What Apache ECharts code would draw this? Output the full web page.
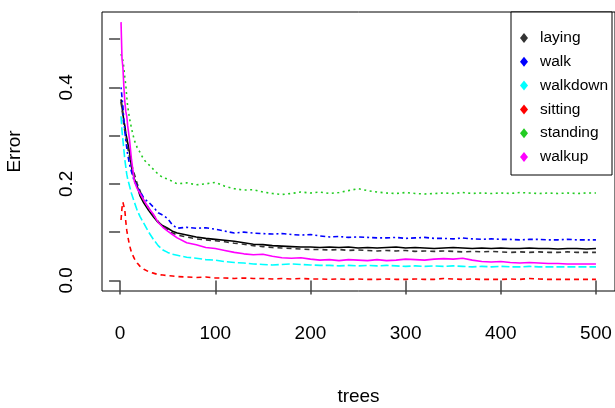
<!DOCTYPE html>
<html>
<head>
<meta charset="utf-8">
<script src="https://cdn.jsdelivr.net/npm/echarts@6/dist/echarts.min.js"></script>
<style>
html,body{margin:0;padding:0;background:#fff;}
#c{width:615px;height:408px;}
</style>
</head>
<body>
<div id="c"></div>
<script>
// number of trees at which error was read
const trees = [1,2,3,4,5,6,7,8,10,12,15,18,21,25,30,35,40,45,50,55,60,
  70,80,90,100,110,120,130,140,150,160,170,180,190,200,210,220,230,240,250,260,270,280,290,300,
  310,320,330,340,350,360,370,380,390,400,410,420,430,440,450,460,470,480,490,500];

const oob = [0.375,0.36,0.345,0.33,0.32,0.305,0.295,0.285,0.265,0.235,0.21,0.195,0.175,0.16,0.145,0.132,0.12,0.113,0.108,0.102,0.098,
  0.094,0.09,0.087,0.085,0.083,0.081,0.078,0.075,0.074,0.072,0.071,0.07,0.069,0.069,0.068,0.069,0.068,0.069,0.067,0.068,0.067,0.068,0.069,0.067,
  0.068,0.067,0.066,0.067,0.068,0.067,0.066,0.067,0.066,0.067,0.066,0.066,0.067,0.066,0.066,0.065,0.066,0.066,0.065,0.066];

const laying = [0.37,0.355,0.34,0.32,0.31,0.3,0.285,0.275,0.255,0.24,0.22,0.2,0.185,0.165,0.15,0.135,0.122,0.112,0.105,0.098,0.094,
  0.09,0.086,0.084,0.082,0.08,0.077,0.075,0.072,0.07,0.068,0.067,0.066,0.065,0.064,0.064,0.063,0.064,0.062,0.063,0.062,0.061,0.062,0.061,0.062,
  0.060,0.061,0.060,0.061,0.060,0.059,0.060,0.059,0.060,0.059,0.058,0.059,0.058,0.059,0.058,0.058,0.059,0.058,0.058,0.058];

const walk = [0.40,0.38,0.36,0.33,0.31,0.29,0.275,0.26,0.24,0.225,0.205,0.195,0.185,0.17,0.162,0.152,0.14,0.135,0.128,0.115,0.108,
  0.11,0.108,0.109,0.106,0.102,0.098,0.1,0.098,0.097,0.096,0.097,0.095,0.094,0.095,0.092,0.09,0.091,0.089,0.09,0.089,0.088,0.088,0.089,0.087,
  0.088,0.089,0.087,0.087,0.086,0.088,0.086,0.085,0.086,0.085,0.085,0.084,0.085,0.085,0.084,0.084,0.085,0.084,0.084,0.084];

const walkdown = [0.34,0.31,0.29,0.27,0.25,0.235,0.22,0.21,0.195,0.18,0.162,0.145,0.132,0.118,0.1,0.085,0.072,0.063,0.058,0.054,0.052,
  0.048,0.046,0.043,0.042,0.039,0.037,0.036,0.034,0.033,0.032,0.033,0.034,0.033,0.032,0.031,0.031,0.030,0.031,0.030,0.031,0.030,0.031,0.030,0.029,
  0.030,0.029,0.030,0.029,0.030,0.029,0.028,0.029,0.028,0.029,0.028,0.028,0.029,0.028,0.028,0.028,0.028,0.028,0.028,0.028];

const sitting = [0.125,0.15,0.162,0.166,0.145,0.122,0.104,0.092,0.072,0.058,0.045,0.036,0.029,0.023,0.018,0.015,0.012,0.011,0.01,0.009,0.008,
  0.007,0.006,0.007,0.005,0.005,0.004,0.005,0.004,0.004,0.003,0.004,0.003,0.004,0.003,0.003,0.002,0.003,0.002,0.003,0.002,0.002,0.003,0.002,0.002,
  0.003,0.002,0.002,0.004,0.003,0.002,0.003,0.002,0.002,0.002,0.003,0.002,0.004,0.003,0.002,0.002,0.002,0.002,0.002,0.002];

const standing = [0.469,0.47,0.455,0.44,0.42,0.405,0.38,0.36,0.335,0.315,0.29,0.275,0.265,0.25,0.24,0.23,0.22,0.213,0.21,0.205,0.2,
  0.202,0.198,0.2,0.203,0.195,0.19,0.187,0.188,0.183,0.18,0.178,0.18,0.183,0.181,0.183,0.18,0.182,0.186,0.19,0.186,0.183,0.181,0.18,0.182,
  0.18,0.179,0.18,0.181,0.18,0.182,0.18,0.181,0.18,0.181,0.18,0.182,0.181,0.18,0.181,0.18,0.181,0.18,0.181,0.181];

const walkup = [0.535,0.46,0.44,0.40,0.37,0.35,0.34,0.32,0.29,0.25,0.205,0.19,0.18,0.166,0.15,0.137,0.12,0.11,0.102,0.095,0.088,
  0.078,0.074,0.068,0.066,0.062,0.058,0.055,0.053,0.054,0.05,0.047,0.046,0.047,0.044,0.042,0.043,0.041,0.043,0.042,0.041,0.043,0.041,0.042,0.044,
  0.043,0.042,0.044,0.045,0.044,0.046,0.042,0.039,0.038,0.039,0.037,0.036,0.037,0.036,0.035,0.035,0.034,0.034,0.034,0.034];

const legendNames = ['laying','walk','walkdown','sitting','standing','walkup'];
const xTicks = [0,100,200,300,400,500];
const yTicks = [0,0.1,0.2,0.3,0.4,0.5];
const yLabels = [0,0.2,0.4];

function pairs(vals){ return trees.map((t,i)=>[t, vals[i]]); }

const FONT = 'Liberation Sans, Arial, sans-serif';

const seriesDefs = [
  {name:'OOB', data:oob, color:'#000000', type:'solid'},
  {name:'laying', data:laying, color:'#333333', type:[5,4]},
  {name:'sitting', data:sitting, color:'#ff0000', type:[5,4]},
  {name:'standing', data:standing, color:'#22cc22', type:[2,3.5]},
  {name:'walk', data:walk, color:'#0000ff', type:[2,3,5,3]},
  {name:'walkdown', data:walkdown, color:'#00ffff', type:[8,3]},
  {name:'walkup', data:walkup, color:'#ff00ff', type:'solid'}
];

const chart = echarts.init(document.getElementById('c'), null, {renderer:'canvas'});
chart.setOption({
  animation:false,
  backgroundColor:'#ffffff',
  grid:{left:102, top:12, width:513, height:279, show:true, borderColor:'#000', borderWidth:1,
    backgroundColor:'transparent', containLabel:false, outerBoundsMode:'none'},
  xAxis:{
    type:'value', min:-19, max:520,
    name:'trees', nameLocation:'middle', nameGap:96,
    nameTextStyle:{fontFamily:FONT, fontSize:19, color:'#000'},
    axisLine:{show:false},
    axisTick:{show:true, length:14, customValues:xTicks, lineStyle:{color:'#444', width:1.5}},
    axisLabel:{fontFamily:FONT, fontSize:19, color:'#000', margin:33, customValues:xTicks},
    splitLine:{show:false}
  },
  yAxis:{
    type:'value', min:-0.022, max:0.556,
    name:'Error', nameLocation:'middle', nameGap:78,
    nameTextStyle:{fontFamily:FONT, fontSize:19, color:'#000'},
    axisLine:{show:false},
    axisTick:{show:true, length:11, customValues:yTicks, lineStyle:{color:'#444', width:1.5}},
    axisLabel:{fontFamily:FONT, fontSize:19, color:'#000', margin:26, rotate:90, customValues:yLabels,
      formatter:v=>v.toFixed(1)},
    splitLine:{show:false}
  },
  legend:{
    data:legendNames, orient:'vertical', left:520, top:30, padding:0,
    itemWidth:8, itemHeight:10, itemGap:7.8, icon:'diamond', z:10,
    textStyle:{fontFamily:FONT, fontSize:15.5, color:'#000', lineHeight:16, padding:[0,0,0,7]}
  },
  graphic:[{type:'rect', shape:{x:511, y:12, width:101, height:163}, style:{fill:'#fff', stroke:'#000', lineWidth:1}, z:5}],
  series:seriesDefs.map(s=>({
    name:s.name, type:'line', data:pairs(s.data), showSymbol:false, symbol:'none',
    color:s.color, itemStyle:{color:s.color},
    lineStyle:{color:s.color, width:1.6, type:s.type},
    z:2
  }))
});
</script>
</body>
</html>
